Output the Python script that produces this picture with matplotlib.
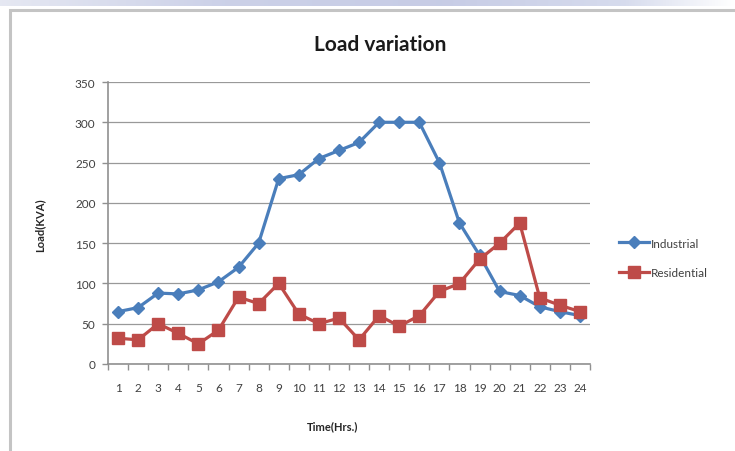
import matplotlib
matplotlib.use("Agg")
import matplotlib.pyplot as plt
import numpy as np
from matplotlib.patches import Rectangle
from matplotlib.lines import Line2D

hours = [str(h) for h in range(1, 25)]
industrial = [65, 70, 88, 87, 92, 102, 120, 150, 230, 235, 255, 265,
              275, 300, 300, 300, 250, 175, 135, 90, 85, 71, 65, 60]
residential = [32, 30, 50, 38, 25, 42, 83, 75, 100, 62, 50, 57,
               30, 60, 47, 60, 90, 100, 130, 150, 175, 82, 73, 65]
y_ticks = [0, 50, 100, 150, 200, 250, 300, 350]

plt.rcParams['font.family'] = ['Lato', 'DejaVu Sans']

W, H = 735, 452
fig = plt.figure(figsize=(W / 100, H / 100), dpi=100)
fig.patch.set_facecolor('white')

# header band with a soft lavender gradient
band = fig.add_axes([0, 1 - 7 / H, 1, 7 / H])
grad = np.linspace(0, 1, 256)
stops = [0, 0.3, 0.6, 0.85, 1.0]
r = np.interp(grad, stops, [0.90, 0.80, 0.78, 0.84, 1.0])
g = np.interp(grad, stops, [0.91, 0.82, 0.80, 0.86, 1.0])
b = np.interp(grad, stops, [0.95, 0.91, 0.90, 0.93, 1.0])
band.imshow(np.dstack([r, g, b]), aspect='auto', extent=[0, 1, 0, 1])
band.set_axis_off()

# chart frame
fig.add_artist(Rectangle((9.5 / W, -0.05), 1.0, 1 - 10.5 / H + 0.05,
                         transform=fig.transFigure, fill=False,
                         edgecolor='#c4c4c4', linewidth=2.2))

ax = fig.add_axes([108 / W, 1 - 365 / H, (590 - 108) / W, (365 - 83) / H])
x = np.arange(1, 25)
blue, red = '#4a7ebb', '#be4b48'
ax.plot(x, industrial, color=blue, linewidth=2.3, marker='D',
        markersize=6, solid_joinstyle='round', zorder=3)
ax.plot(x, residential, color=red, linewidth=2.3, marker='s',
        markersize=8, solid_joinstyle='round', zorder=3)

ax.set_xlim(0.5, 24.5)
ax.set_ylim(0, 350)
ax.set_yticks(y_ticks)
ax.set_xticks(x)
ax.set_xticklabels(hours)
ax.set_xticks(np.arange(0.5, 25, 1), minor=True)
ax.tick_params(axis='x', which='major', length=0, labelsize=8.5,
               colors='#404040', pad=13)
ax.tick_params(axis='x', which='minor', length=4, color='#909090', width=1)
ax.tick_params(axis='y', length=4, color='#909090', width=1, labelsize=8.5,
               labelcolor='#404040', pad=5)
ax.grid(axis='y', color='#999999', linewidth=0.9)
ax.set_axisbelow(True)
for side in ['top', 'right']:
    ax.spines[side].set_visible(False)
for side in ['left', 'bottom']:
    ax.spines[side].set_color('#909090')
    ax.spines[side].set_linewidth(1.2)

fig.text(380 / W, 1 - 45 / H, 'Load variation', ha='center', va='center',
         fontsize=15, fontweight='bold', color='#1a1a1a')
fig.text(333 / W, 1 - 427 / H, 'Time(Hrs.)', ha='center', va='center',
         fontsize=8, fontweight='bold', color='#262626')
fig.text(40 / W, 1 - 225 / H, 'Load(KVA)', ha='center', va='center',
         rotation=90, fontsize=8, fontweight='bold', color='#262626')

handles = [Line2D([], [], color=blue, linewidth=2.3, marker='D', markersize=6),
           Line2D([], [], color=red, linewidth=2.3, marker='s', markersize=8)]
fig.legend(handles, ['Industrial', 'Residential'], loc='center left',
           bbox_to_anchor=(608 / W, 1 - 259 / H), frameon=False,
           fontsize=8.5, handlelength=2.6, handletextpad=0.1,
           labelspacing=1.6, labelcolor='#404040')

fig.savefig('out.png', dpi=100, facecolor='white')
